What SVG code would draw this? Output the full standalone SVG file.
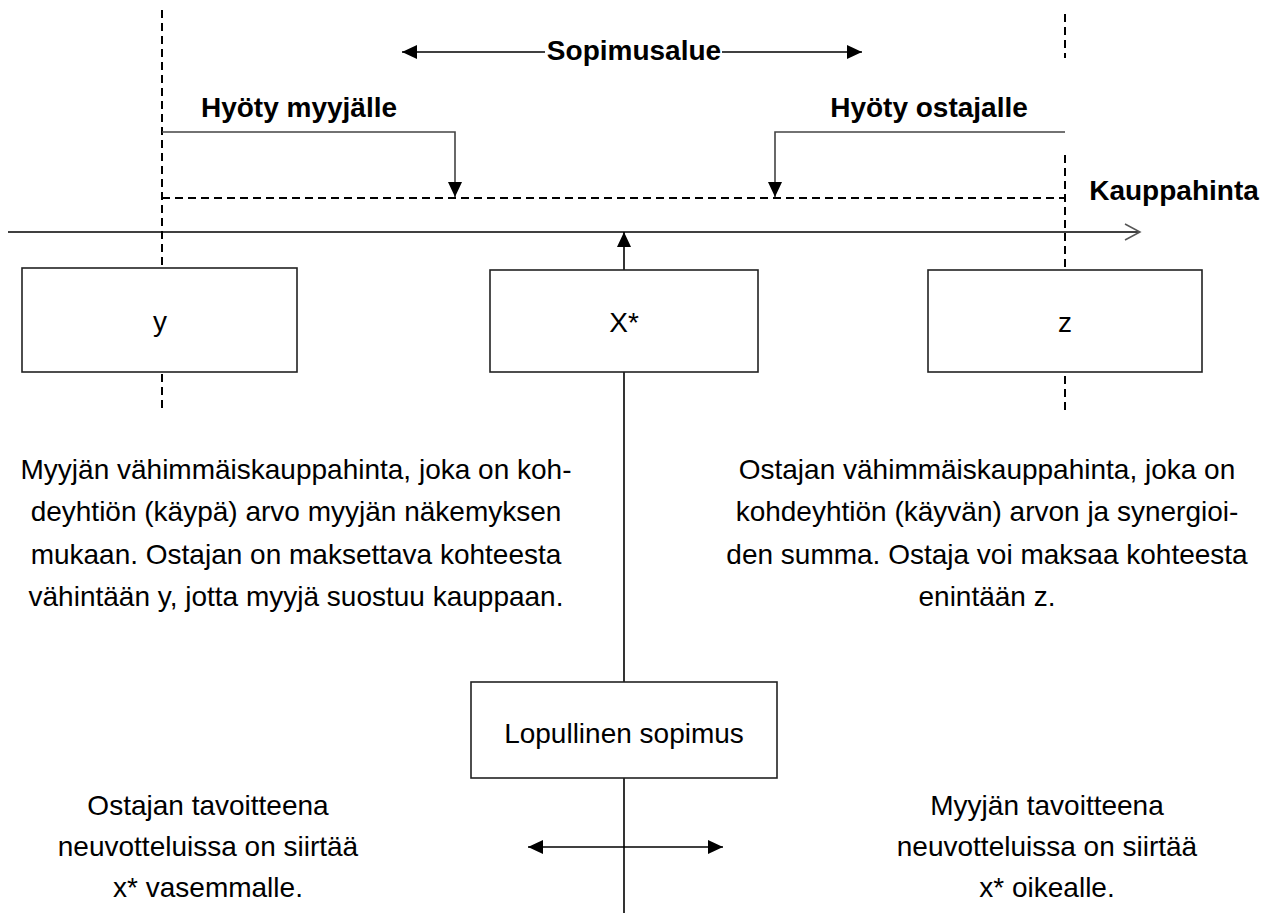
<svg xmlns="http://www.w3.org/2000/svg" width="1271" height="916" viewBox="0 0 1271 916">
  <style>
    .lbl { font-family: "Liberation Sans", Arial, Helvetica, sans-serif; font-size: 28px; fill: #000; text-anchor: middle; }
    .bold { font-weight: bold; }
    .box { fill: #fff; stroke: #222; stroke-width: 1.6; }
    .ln { fill: none; stroke: #000; stroke-width: 1.6; }
    .gry { fill: none; stroke: #444; stroke-width: 1.6; }
    .dash { fill: none; stroke: #000; stroke-width: 2; stroke-dasharray: 8 5; }
  </style>
  <defs>
    <marker id="tri" markerUnits="userSpaceOnUse" markerWidth="16" markerHeight="14" refX="15" refY="7" orient="auto-start-reverse">
      <path d="M0,0 L15,7 L0,14 z" fill="#000"/>
    </marker>
    <marker id="open" markerUnits="userSpaceOnUse" markerWidth="18" markerHeight="18" refX="16" refY="9" orient="auto">
      <path d="M1,1 L16,9 L1,17" fill="none" stroke="#555" stroke-width="1.5"/>
    </marker>
  </defs>

  <rect width="1271" height="916" fill="#fff"/>

  <!-- connectors: limit lines, brackets, axis and arrows -->
  <g id="connectors">
    <!-- seller limit (left) and buyer limit (right) -->
    <line class="dash" x1="162" y1="10" x2="162" y2="412"/>
    <line class="dash" x1="1065" y1="14" x2="1065" y2="58"/>
    <line class="dash" x1="1065" y1="155" x2="1065" y2="412"/>
    <!-- agreement zone -->
    <line class="dash" x1="162" y1="198" x2="1065" y2="198"/>
    <!-- bargaining range arrows -->
    <line class="ln" x1="545" y1="52" x2="402" y2="52" marker-end="url(#tri)"/>
    <line class="ln" x1="722" y1="52" x2="862" y2="52" marker-end="url(#tri)"/>
    <!-- benefit brackets -->
    <polyline class="gry" points="162,132 455,132 455,197" marker-end="url(#tri)"/>
    <polyline class="gry" points="1065,132 775,132 775,197" marker-end="url(#tri)"/>
    <!-- price axis -->
    <line class="ln" x1="8" y1="232" x2="1140" y2="232" marker-end="url(#open)"/>
    <!-- x* up to axis -->
    <line class="ln" x1="624" y1="270" x2="624" y2="232" marker-end="url(#tri)"/>
    <!-- x* down to final agreement and beyond -->
    <line class="ln" x1="624" y1="372" x2="624" y2="682"/>
    <line class="ln" x1="624" y1="778" x2="624" y2="913"/>
    <!-- negotiation direction -->
    <line class="ln" x1="624" y1="847" x2="528" y2="847" marker-end="url(#tri)"/>
    <line class="ln" x1="624" y1="847" x2="723" y2="847" marker-end="url(#tri)"/>
  </g>

  <g id="label-sopimusalue">
    <text class="lbl bold" x="634" y="60">Sopimusalue</text>
  </g>
  <g id="label-hyoty-myyjalle">
    <text class="lbl bold" x="299" y="117">Hyöty myyjälle</text>
  </g>
  <g id="label-hyoty-ostajalle">
    <text class="lbl bold" x="929" y="117">Hyöty ostajalle</text>
  </g>
  <g id="label-kauppahinta">
    <text class="lbl bold" x="1174" y="200">Kauppahinta</text>
  </g>

  <g id="node-y">
    <rect class="box" x="22" y="268" width="275" height="104"/>
    <text class="lbl" x="160" y="331">y</text>
  </g>
  <g id="node-x">
    <rect class="box" x="490" y="270" width="268" height="102"/>
    <text class="lbl" x="624" y="332">X*</text>
  </g>
  <g id="node-z">
    <rect class="box" x="928" y="270" width="274" height="102"/>
    <text class="lbl" x="1065" y="332">z</text>
  </g>

  <g id="text-myyja">
    <text class="lbl" x="296" y="479">Myyjän vähimmäiskauppahinta, joka on koh-</text>
    <text class="lbl" x="296" y="521">deyhtiön (käypä) arvo myyjän näkemyksen</text>
    <text class="lbl" x="296" y="564">mukaan. Ostajan on maksettava kohteesta</text>
    <text class="lbl" x="296" y="606">vähintään y, jotta myyjä suostuu kauppaan.</text>
  </g>
  <g id="text-ostaja">
    <text class="lbl" x="987" y="479">Ostajan vähimmäiskauppahinta, joka on</text>
    <text class="lbl" x="987" y="521">kohdeyhtiön (käyvän) arvon ja synergioi-</text>
    <text class="lbl" x="987" y="564">den summa. Ostaja voi maksaa kohteesta</text>
    <text class="lbl" x="987" y="606">enintään z.</text>
  </g>

  <g id="node-lopullinen">
    <rect class="box" x="471" y="682" width="306" height="96"/>
    <text class="lbl" x="624" y="743">Lopullinen sopimus</text>
  </g>

  <g id="text-ostajan-tavoite">
    <text class="lbl" x="208" y="815">Ostajan tavoitteena</text>
    <text class="lbl" x="208" y="856">neuvotteluissa on siirtää</text>
    <text class="lbl" x="208" y="897">x* vasemmalle.</text>
  </g>
  <g id="text-myyjan-tavoite">
    <text class="lbl" x="1047" y="815">Myyjän tavoitteena</text>
    <text class="lbl" x="1047" y="856">neuvotteluissa on siirtää</text>
    <text class="lbl" x="1047" y="897">x* oikealle.</text>
  </g>
</svg>
